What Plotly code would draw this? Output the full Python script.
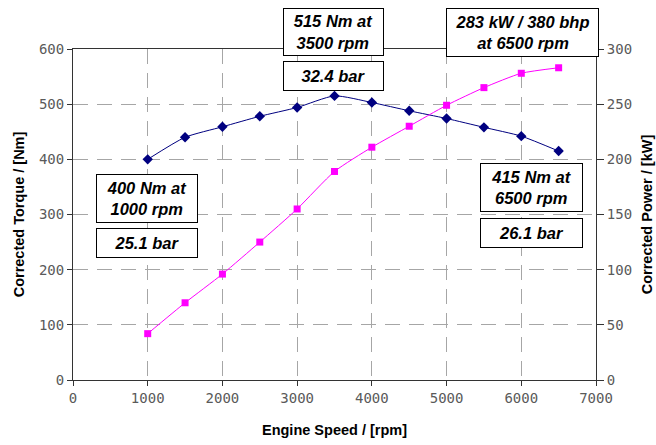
import plotly.graph_objects as go

# Engine speed sweep and measured curves
rpm = [1000, 1500, 2000, 2500, 3000, 3500, 4000, 4500, 5000, 5500, 6000, 6500]
torque_nm = [400, 440, 459, 478, 494, 515, 503, 488, 474, 458, 442, 415]
power_kw = [42, 70, 96, 125, 155, 189, 211, 230, 249, 265, 278, 283]

x_ticks = [0, 1000, 2000, 3000, 4000, 5000, 6000, 7000]
torque_ticks = [0, 100, 200, 300, 400, 500, 600]
power_ticks = [0, 50, 100, 150, 200, 250, 300]

# Callout boxes: text, centre (px), width, height (px)
callouts = [
    ("515 Nm at<br>3500 rpm", 333.5, 32, 101, 48),
    ("32.4 bar", 333.5, 76, 101, 30),
    ("283 kW / 380 bhp<br>at 6500 rpm", 522.5, 32.5, 153, 49),
    ("400 Nm at<br>1000 rpm", 147, 198.5, 102, 49),
    ("25.1 bar", 147, 243, 102, 30),
    ("415 Nm at<br>6500 rpm", 531.5, 187.5, 103, 49),
    ("26.1 bar", 531.5, 233, 103, 30),
]

W, H = 656, 445
ML, MR, MT, MB = 73, 60, 49, 65
PW, PH = W - ML - MR, H - MT - MB


def px_to_paper(px, py):
    return (px - ML) / PW, (H - MB - py) / PH


fig = go.Figure()

fig.add_trace(go.Scatter(
    x=rpm, y=torque_nm, mode="lines+markers", name="Torque",
    line=dict(color="#000080", width=1, shape="spline", smoothing=0.6),
    marker=dict(symbol="diamond", size=8, color="#000080"),
    yaxis="y", showlegend=False, cliponaxis=False,
))
fig.add_trace(go.Scatter(
    x=rpm, y=power_kw, mode="lines+markers", name="Power",
    line=dict(color="#FF00FF", width=1, shape="spline", smoothing=0.6),
    marker=dict(symbol="square", size=7, color="#FF00FF"),
    yaxis="y2", showlegend=False, cliponaxis=False,
))

tick_font = dict(family="DejaVu Sans Mono", size=14, color="#5a5a5a")
title_font = dict(family="Liberation Sans", size=14.5, color="#000000", weight="bold")
grid = dict(showgrid=True, gridcolor="#a6a6a6", gridwidth=1, griddash="15px,9px")

fig.update_layout(
    width=W, height=H,
    margin=dict(l=ML, r=MR, t=MT, b=MB, pad=0),
    paper_bgcolor="white", plot_bgcolor="white",
    xaxis=dict(
        range=[0, 7000], tickvals=x_ticks, ticks="outside", ticklen=5,
        tickcolor="#333333", tickfont=tick_font, automargin=False,
        showline=True, linecolor="#333333", linewidth=1, mirror=True,
        zeroline=False,
        title=dict(text="Engine Speed / [rpm]", font=title_font, standoff=20),
        **grid,
    ),
    yaxis=dict(
        range=[0, 600], tickvals=torque_ticks, ticks="outside", ticklen=5,
        tickcolor="#333333", tickfont=tick_font, automargin=False,
        showline=True, linecolor="#333333", linewidth=1,
        zeroline=False,
        title=dict(text="Corrected Torque / [Nm]", font=title_font, standoff=10),
        **grid,
    ),
    yaxis2=dict(
        range=[0, 300], tickvals=power_ticks, ticks="outside", ticklen=7,
        tickcolor="#333333", tickfont=tick_font, automargin=False,
        showline=True, linecolor="#333333", linewidth=1,
        zeroline=False, showgrid=False,
        overlaying="y", side="right",
        title=dict(text="Corrected Power / [kW]", font=title_font, standoff=10),
    ),
)

for text, cx, cy, bw, bh in callouts:
    xp, yp = px_to_paper(cx, cy)
    fig.add_annotation(
        text=text, xref="paper", yref="paper", x=xp, y=yp,
        xanchor="center", yanchor="middle", showarrow=False,
        width=bw - 2, height=bh - 2, align="center", valign="middle",
        bgcolor="white", bordercolor="#000000", borderwidth=1, borderpad=0,
        font=dict(family="Liberation Sans", size=16.5, color="#000000",
                  weight="bold", style="italic"),
    )

fig.write_html("out.html")
